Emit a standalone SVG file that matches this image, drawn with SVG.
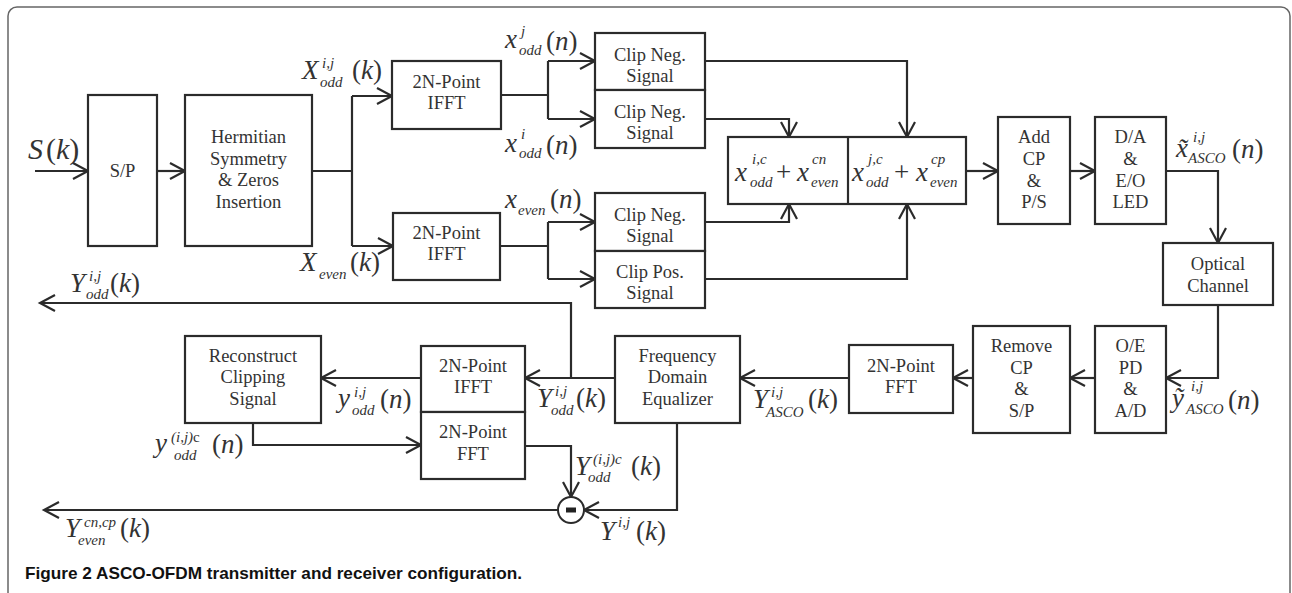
<svg xmlns="http://www.w3.org/2000/svg" width="1292" height="593" viewBox="0 0 1292 593">
<defs>
<style>
.bx{fill:#fff;stroke:#2b2b2b;stroke-width:2.2}
.ln{fill:none;stroke:#2b2b2b;stroke-width:2.2}
.ar{marker-end:url(#ah)}
.t{font-family:'Liberation Serif','DejaVu Serif',serif;font-size:18.5px;fill:#333;text-anchor:middle}
.m{font-family:'Liberation Serif','DejaVu Serif',serif;font-style:italic;font-size:27px;fill:#333}
.s{font-size:15px}
.u{font-style:normal}
.cap{font-family:'Liberation Sans',Arial,sans-serif;font-weight:bold;font-size:17px;fill:#111}
</style>
<marker id="ah" markerUnits="userSpaceOnUse" markerWidth="20" markerHeight="20" viewBox="0 0 20 20" refX="17" refY="10" orient="auto">
<path d="M2,2 L17,10 L2,18" fill="none" stroke="#2b2b2b" stroke-width="2.2"/>
</marker>
</defs>
<rect width="1292" height="593" fill="#fff"/>
<rect x="8" y="7" width="1282" height="700" rx="9" fill="none" stroke="#666" stroke-width="1.5"/>

<g id="connectors">
<path class="ln ar" d="M35,171 H88"/>
<path class="ln ar" d="M157,171 H185"/>
<path class="ln" d="M312,171 H352 M352,96 V246"/>
<path class="ln ar" d="M352,96 H392"/>
<path class="ln ar" d="M352,246 H393"/>
<path class="ln" d="M501,95 H548 M548,61 V119"/>
<path class="ln ar" d="M548,61 H595"/>
<path class="ln ar" d="M548,119 H595"/>
<path class="ln" d="M500,246 H548 M548,222 V279"/>
<path class="ln ar" d="M548,222 H595"/>
<path class="ln ar" d="M548,279 H595"/>
<path class="ln ar" d="M705,61 H907 V137"/>
<path class="ln ar" d="M705,119 H789 V137"/>
<path class="ln ar" d="M705,222 H789 V204"/>
<path class="ln ar" d="M705,279 H907 V204"/>
<path class="ln ar" d="M966,171 H998"/>
<path class="ln ar" d="M1070,171 H1095"/>
<path class="ln ar" d="M1166,171 H1218 V243"/>
<path class="ln ar" d="M1218,305 V378 H1166"/>
<path class="ln ar" d="M1095,378 H1070"/>
<path class="ln ar" d="M973,378 H953"/>
<path class="ln ar" d="M849,378 H740"/>
<path class="ln ar" d="M615,378 H525"/>
<path class="ln ar" d="M571,378 V303 H40"/>
<path class="ln ar" d="M421,378 H321"/>
<path class="ln ar" d="M253,423 V445 H421"/>
<path class="ln ar" d="M525,446 H571 V497"/>
<path class="ln ar" d="M677,423 V510 H584"/>
<path class="ln ar" d="M558,510 H44"/>
</g>

<g id="subtract">
<circle cx="571" cy="510" r="13" fill="#fff" stroke="#2b2b2b" stroke-width="2"/>
<rect x="566" y="507.5" width="10" height="5" fill="#222"/>
</g>

<g id="sp"><rect class="bx" x="88" y="95" width="69" height="151"/><text class="t" x="122.5" y="177">S/P</text></g>
<g id="hermitian"><rect class="bx" x="185" y="95" width="127" height="151"/>
<text class="t" x="248.5" y="143">Hermitian</text><text class="t" x="248.5" y="165">Symmetry</text><text class="t" x="248.5" y="186">&amp; Zeros</text><text class="t" x="248.5" y="208">Insertion</text></g>
<g id="ifft-odd"><rect class="bx" x="392" y="61" width="109" height="68"/><text class="t" x="446.5" y="88">2N-Point</text><text class="t" x="446.5" y="109">IFFT</text></g>
<g id="ifft-even"><rect class="bx" x="393" y="213" width="107" height="67"/><text class="t" x="446.5" y="239">2N-Point</text><text class="t" x="446.5" y="260">IFFT</text></g>
<g id="clip1"><rect class="bx" x="595" y="33" width="110" height="57"/><text class="t" x="650" y="61">Clip Neg.</text><text class="t" x="650" y="82">Signal</text></g>
<g id="clip2"><rect class="bx" x="595" y="90" width="110" height="58"/><text class="t" x="650" y="118">Clip Neg.</text><text class="t" x="650" y="139">Signal</text></g>
<g id="clip3"><rect class="bx" x="595" y="193" width="110" height="58"/><text class="t" x="650" y="221">Clip Neg.</text><text class="t" x="650" y="242">Signal</text></g>
<g id="clip4"><rect class="bx" x="595" y="251" width="110" height="57"/><text class="t" x="650" y="278">Clip Pos.</text><text class="t" x="650" y="299">Signal</text></g>
<g id="sum"><rect class="bx" x="728" y="137" width="238" height="67"/><path class="ln" d="M848,137 V204"/>
<text class="m"><tspan x="735" y="181">x</tspan><tspan class="s" x="752" y="164">i,c</tspan><tspan class="s" x="750" y="187">odd</tspan><tspan class="u" x="776" y="181">+</tspan><tspan x="797" y="181">x</tspan><tspan class="s" x="812" y="164">cn</tspan><tspan class="s" x="811" y="187">even</tspan></text>
<text class="m"><tspan x="852" y="181">x</tspan><tspan class="s" x="868" y="164">j,c</tspan><tspan class="s" x="866" y="187">odd</tspan><tspan class="u" x="894" y="181">+</tspan><tspan x="916" y="181">x</tspan><tspan class="s" x="931" y="164">cp</tspan><tspan class="s" x="930" y="187">even</tspan></text></g>
<g id="addcp"><rect class="bx" x="998" y="117" width="72" height="107"/><text class="t" x="1034" y="143">Add</text><text class="t" x="1034" y="165">CP</text><text class="t" x="1034" y="187">&amp;</text><text class="t" x="1034" y="208">P/S</text></g>
<g id="da"><rect class="bx" x="1095" y="117" width="71" height="107"/><text class="t" x="1130.5" y="143">D/A</text><text class="t" x="1130.5" y="165">&amp;</text><text class="t" x="1130.5" y="187">E/O</text><text class="t" x="1130.5" y="208">LED</text></g>
<g id="optical"><rect class="bx" x="1163" y="243" width="110" height="62"/><text class="t" x="1218" y="270">Optical</text><text class="t" x="1218" y="292">Channel</text></g>
<g id="oe"><rect class="bx" x="1095" y="326" width="71" height="107"/><text class="t" x="1130.5" y="352">O/E</text><text class="t" x="1130.5" y="374">PD</text><text class="t" x="1130.5" y="395">&amp;</text><text class="t" x="1130.5" y="417">A/D</text></g>
<g id="removecp"><rect class="bx" x="973" y="326" width="97" height="107"/><text class="t" x="1021.5" y="352">Remove</text><text class="t" x="1021.5" y="374">CP</text><text class="t" x="1021.5" y="395">&amp;</text><text class="t" x="1021.5" y="417">S/P</text></g>
<g id="fft"><rect class="bx" x="849" y="345" width="104" height="68"/><text class="t" x="901" y="372">2N-Point</text><text class="t" x="901" y="393">FFT</text></g>
<g id="fde"><rect class="bx" x="615" y="336" width="125" height="87"/><text class="t" x="677.5" y="362">Frequency</text><text class="t" x="677.5" y="383">Domain</text><text class="t" x="677.5" y="405">Equalizer</text></g>
<g id="rx-ifft"><rect class="bx" x="421" y="346" width="104" height="66"/><text class="t" x="473" y="372">2N-Point</text><text class="t" x="473" y="393">IFFT</text></g>
<g id="rx-fft"><rect class="bx" x="421" y="412" width="104" height="67"/><text class="t" x="473" y="438">2N-Point</text><text class="t" x="473" y="460">FFT</text></g>
<g id="reconstruct"><rect class="bx" x="185" y="336" width="136" height="87"/><text class="t" x="253" y="362">Reconstruct</text><text class="t" x="253" y="383">Clipping</text><text class="t" x="253" y="405">Signal</text></g>

<g id="labels">
<text class="m" style="font-size:30px"><tspan x="28" y="159">S</tspan><tspan x="46" y="159"><tspan class="u">(</tspan>k<tspan class="u">)</tspan></tspan></text>
<text class="m"><tspan x="302" y="79">X</tspan><tspan class="s" x="322" y="68">i,j</tspan><tspan class="s" x="320" y="87">odd</tspan><tspan x="352" y="79"><tspan class="u">(</tspan>k<tspan class="u">)</tspan></tspan></text>
<text class="m"><tspan x="300" y="271">X</tspan><tspan class="s" x="319" y="279">even</tspan><tspan x="350" y="271"><tspan class="u">(</tspan>k<tspan class="u">)</tspan></tspan></text>
<text class="m"><tspan x="505" y="48">x</tspan><tspan class="s" x="521" y="36">j</tspan><tspan class="s" x="519" y="55">odd</tspan><tspan x="546" y="50"><tspan class="u">(</tspan>n<tspan class="u">)</tspan></tspan></text>
<text class="m"><tspan x="505" y="152">x</tspan><tspan class="s" x="521" y="139">i</tspan><tspan class="s" x="519" y="158">odd</tspan><tspan x="546" y="154"><tspan class="u">(</tspan>n<tspan class="u">)</tspan></tspan></text>
<text class="m"><tspan x="505" y="208">x</tspan><tspan class="s" x="518" y="215">even</tspan><tspan x="550" y="208"><tspan class="u">(</tspan>n<tspan class="u">)</tspan></tspan></text>
<text class="m"><tspan x="1176" y="157">x&#x303;</tspan><tspan class="s" x="1193" y="142">i,j</tspan><tspan class="s" x="1188" y="163">ASCO</tspan><tspan x="1232" y="158"><tspan class="u">(</tspan>n<tspan class="u">)</tspan></tspan></text>
<text class="m"><tspan x="1172" y="407">y&#x303;</tspan><tspan class="s" x="1191" y="391">i,j</tspan><tspan class="s" x="1186" y="414">ASCO</tspan><tspan x="1228" y="409"><tspan class="u">(</tspan>n<tspan class="u">)</tspan></tspan></text>
<text class="m"><tspan x="70" y="292">Y</tspan><tspan class="s" x="89" y="281">i,j</tspan><tspan class="s" x="86" y="299">odd</tspan><tspan x="110" y="292"><tspan class="u">(</tspan>k<tspan class="u">)</tspan></tspan></text>
<text class="m"><tspan x="338" y="407">y</tspan><tspan class="s" x="354" y="397">i,j</tspan><tspan class="s" x="352" y="415">odd</tspan><tspan x="380" y="408"><tspan class="u">(</tspan>n<tspan class="u">)</tspan></tspan></text>
<text class="m"><tspan x="155" y="452">y</tspan><tspan class="s" x="171" y="442">(i,j)<tspan class="u">c</tspan></tspan><tspan class="s" x="174" y="460">odd</tspan><tspan x="212" y="453"><tspan class="u">(</tspan>n<tspan class="u">)</tspan></tspan></text>
<text class="m"><tspan x="65" y="537">Y</tspan><tspan class="s" x="84" y="527">cn,cp</tspan><tspan class="s" x="78" y="545">even</tspan><tspan x="120" y="537"><tspan class="u">(</tspan>k<tspan class="u">)</tspan></tspan></text>
<text class="m"><tspan x="537" y="407">Y</tspan><tspan class="s" x="555" y="396">i,j</tspan><tspan class="s" x="551" y="415">odd</tspan><tspan x="576" y="407"><tspan class="u">(</tspan>k<tspan class="u">)</tspan></tspan></text>
<text class="m"><tspan x="575" y="475">Y</tspan><tspan class="s" x="593" y="464">(i,j)c</tspan><tspan class="s" x="588" y="482">odd</tspan><tspan x="631" y="475"><tspan class="u">(</tspan>k<tspan class="u">)</tspan></tspan></text>
<text class="m"><tspan x="600" y="540">Y</tspan><tspan class="s" x="618" y="527">i,j</tspan><tspan x="636" y="540"><tspan class="u">(</tspan>k<tspan class="u">)</tspan></tspan></text>
<text class="m"><tspan x="753" y="408">Y</tspan><tspan class="s" x="771" y="397">i,j</tspan><tspan class="s" x="766" y="417">ASCO</tspan><tspan x="808" y="408"><tspan class="u">(</tspan>k<tspan class="u">)</tspan></tspan></text>
</g>

<text class="cap" x="25" y="579" textLength="497" lengthAdjust="spacingAndGlyphs">Figure 2 ASCO-OFDM transmitter and receiver configuration.</text>
</svg>
